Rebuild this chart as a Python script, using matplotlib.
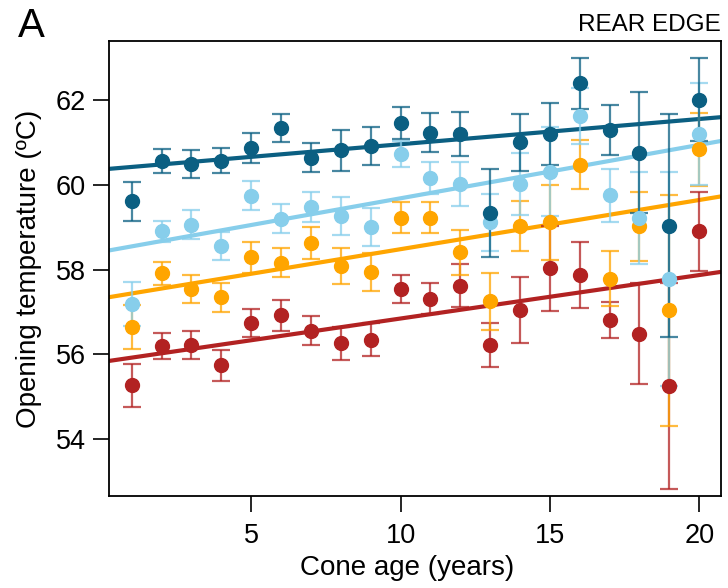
import matplotlib
matplotlib.use("Agg")
import matplotlib.pyplot as plt
import numpy as np

plt.rcParams['font.family'] = ['Liberation Sans', 'DejaVu Sans']

age = np.arange(1, 21)

# mean opening temperature and error (+/-) per cone age, one pair per group
teal_mean = [59.61, 60.56, 60.49, 60.57, 60.86, 61.33, 60.64, 60.81, 60.92, 61.46,
             61.23, 61.19, 59.33, 61.00, 61.20, 62.39, 61.29, 60.76, 59.03, 62.00]
teal_err = [0.46, 0.29, 0.33, 0.30, 0.35, 0.33, 0.35, 0.48, 0.45, 0.37,
            0.45, 0.52, 1.03, 0.67, 0.73, 0.60, 0.60, 1.42, 2.63, 0.98]

sky_mean = [57.19, 58.90, 59.06, 58.56, 59.74, 59.20, 59.48, 59.27, 59.00, 60.72,
            60.16, 60.02, 59.11, 60.02, 60.31, 61.62, 59.75, 59.22, 57.78, 61.20]
sky_err = [0.51, 0.25, 0.34, 0.33, 0.34, 0.35, 0.35, 0.45, 0.45, 0.30,
           0.38, 0.51, 0.67, 0.73, 1.04, 0.65, 0.63, 1.09, 2.53, 1.20]

orange_mean = [56.64, 57.91, 57.53, 57.35, 58.29, 58.16, 58.63, 58.08, 57.94, 59.22,
               59.22, 58.41, 57.25, 59.02, 59.11, 60.47, 57.78, 59.02, 57.04, 60.84]
orange_err = [0.52, 0.27, 0.33, 0.34, 0.37, 0.34, 0.38, 0.43, 0.45, 0.37,
              0.37, 0.53, 0.68, 0.59, 0.89, 0.58, 0.65, 0.82, 2.72, 0.86]

red_mean = [55.27, 56.20, 56.22, 55.74, 56.73, 56.92, 56.56, 56.26, 56.34, 57.53,
            57.31, 57.62, 56.22, 57.04, 58.03, 57.88, 56.81, 56.49, 55.25, 58.90]
red_err = [0.50, 0.30, 0.33, 0.37, 0.33, 0.36, 0.35, 0.39, 0.39, 0.33,
           0.37, 0.50, 0.53, 0.78, 1.00, 0.78, 0.42, 1.20, 2.43, 0.94]

# fitted regression lines: intercept (at age 0) and slope
fit_intercept = {'teal': 60.36, 'sky': 58.42, 'orange': 57.32, 'red': 55.82}
fit_slope = {'teal': 0.0595, 'sky': 0.126, 'orange': 0.116, 'red': 0.1025}

groups = [
    ('red', red_mean, red_err, '#b22222'),
    ('orange', orange_mean, orange_err, '#ffa500'),
    ('sky', sky_mean, sky_err, '#87ceeb'),
    ('teal', teal_mean, teal_err, '#0b5f82'),
]

fig = plt.figure(figsize=(7.28, 5.88), dpi=100)
ax = fig.add_axes([0.1497, 0.1565, 0.8407, 0.7738])

xlim = (0.24, 20.73)
xs = np.array(xlim)
for name, mean, err, col in groups:
    ax.plot(xs, fit_intercept[name] + fit_slope[name] * xs, color=col,
            lw=3.0, solid_capstyle='butt', zorder=2)

for name, mean, err, col in groups:
    ax.errorbar(age, mean, yerr=err, fmt='none', ecolor=col, alpha=0.75,
                elinewidth=1.6, capsize=6.5, capthick=1.6, zorder=3)
    ax.plot(age, mean, 'o', color=col, markersize=10, zorder=4)

ax.set_xlim(*xlim)
ax.set_ylim(52.66, 63.39)
ax.set_xticks([5, 10, 15, 20])
ax.set_yticks([54, 56, 58, 60, 62])
ax.tick_params(direction='out', length=11.5, width=1.2, labelsize=19.5)
ax.tick_params(axis='x', pad=8)
ax.tick_params(axis='y', pad=5)
for s in ax.spines.values():
    s.set_linewidth(1.3)

ax.set_xlabel('Cone age (years)', fontsize=20, va='center')
ax.xaxis.set_label_coords(0.487, -0.158)
ax.set_ylabel('Opening temperature (ºC)', fontsize=20, va='center')
ax.yaxis.set_label_coords(-0.1307, 0.5)

fig.text(18 / 728, 1 - 37.3 / 588, 'A', fontsize=29, ha='left', va='baseline')
fig.text(721 / 728, 1 - 31 / 588, 'REAR EDGE', fontsize=17.5, ha='right', va='baseline')

fig.savefig('out.png', dpi=100)
